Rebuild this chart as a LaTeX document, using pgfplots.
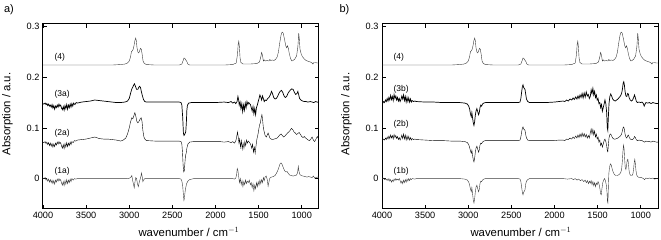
\documentclass[border=0pt]{standalone}
\usepackage{fontspec}
\setmainfont{Liberation Sans}
\usepackage{pgfplots}
\pgfplotsset{compat=1.18}
\definecolor{spec}{HTML}{3A3A3A}
\pgfplotsset{ir/.style={
  scale only axis, width=276bp, height=185bp, anchor=south west,
  xmin=800, xmax=4000, x dir=reverse, ymin=-0.06, ymax=0.305,
  xtick={1000,1500,2000,2500,3000,3500,4000}, ytick={0,0.1,0.2,0.3},
  tick align=inside, tick pos=both, major tick length=4bp,
  axis line style={line width=1bp, black},
  every tick/.style={line width=0.6bp, black},
  tick label style={font=\fontsize{9.2}{11}\selectfont},
  /pgf/number format/assume math mode=true,
  yticklabel style={/pgf/number format/fixed, /pgf/number format/precision=1},
  xticklabel style={/pgf/number format/1000 sep={}},
  scaled y ticks=false, clip=true,
  cycle list={{spec, line width=0.7bp, mark=none}}}}
\newcommand{\lab}{\fontsize{8.5}{10}\selectfont}
\begin{document}
\begin{tikzpicture}
\path[use as bounding box] (0bp,0bp) rectangle (661bp,240bp);
% ---------------- panel a
\begin{axis}[ir, at={(43bp,31bp)}]
\addplot coordinates {(4000,0.224) (3800,0.224) (3600,0.224) (3400,0.224) (3200,0.224) (3100,0.225) (3050,0.226) (3020,0.228) (3000,0.232) (2985,0.240) (2975,0.250) (2965,0.252) (2955,0.255) (2945,0.262) (2935,0.272) (2925,0.277) (2918,0.272) (2910,0.258) (2900,0.250) (2890,0.248) (2880,0.252) (2870,0.257) (2860,0.255) (2850,0.245) (2840,0.232) (2825,0.227) (2800,0.225) (2700,0.224) (2500,0.224) (2420,0.224) (2390,0.226) (2375,0.233) (2365,0.238) (2355,0.237) (2345,0.234) (2335,0.232) (2320,0.226) (2300,0.224) (2100,0.224) (1900,0.224) (1800,0.225) (1760,0.228) (1745,0.245) (1737,0.265) (1730,0.271) (1723,0.26) (1715,0.238) (1705,0.229) (1680,0.226) (1600,0.226) (1520,0.227) (1490,0.23) (1475,0.24) (1465,0.249) (1455,0.243) (1445,0.232) (1435,0.234) (1420,0.232) (1400,0.233) (1380,0.232) (1370,0.235) (1360,0.233) (1340,0.234) (1320,0.233) (1300,0.236) (1285,0.24) (1270,0.25) (1255,0.268) (1240,0.283) (1228,0.289) (1215,0.287) (1200,0.275) (1185,0.262) (1175,0.258) (1165,0.262) (1155,0.257) (1145,0.247) (1130,0.237) (1115,0.232) (1100,0.233) (1080,0.236) (1060,0.242) (1045,0.26) (1035,0.287) (1028,0.275) (1020,0.255) (1005,0.245) (990,0.24) (970,0.236) (950,0.233) (920,0.231) (900,0.23) (880,0.228) (870,0.226) (860,0.229) (840,0.229) (820,0.228) (800,0.228)};
\addplot coordinates {(4000,0.148) (3990,0.147) (3975,0.149) (3965,0.146) (3955,0.148) (3945,0.144) (3935,0.147) (3925,0.143) (3915,0.145) (3905,0.141) (3895,0.146) (3885,0.139) (3875,0.144) (3865,0.137) (3855,0.143) (3845,0.14) (3835,0.145) (3825,0.141) (3815,0.147) (3805,0.143) (3795,0.145) (3785,0.139) (3775,0.136) (3765,0.142) (3755,0.135) (3745,0.144) (3735,0.138) (3725,0.146) (3715,0.137) (3705,0.145) (3695,0.14) (3685,0.147) (3675,0.141) (3665,0.148) (3655,0.143) (3645,0.149) (3630,0.146) (3615,0.15) (3600,0.149) (3550,0.151) (3500,0.152) (3450,0.153) (3400,0.155) (3350,0.154) (3300,0.153) (3250,0.152) (3200,0.151) (3150,0.15) (3100,0.15) (3050,0.151) (3020,0.153) (3000,0.158) (2985,0.168) (2970,0.177) (2960,0.18) (2950,0.184) (2940,0.187) (2930,0.183) (2915,0.176) (2900,0.176) (2890,0.18) (2880,0.182) (2870,0.18) (2860,0.172) (2850,0.165) (2835,0.156) (2820,0.152) (2800,0.151) (2700,0.151) (2600,0.151) (2500,0.151) (2420,0.151) (2400,0.15) (2390,0.145) (2380,0.12) (2372,0.09) (2365,0.085) (2355,0.088) (2345,0.092) (2338,0.11) (2332,0.135) (2325,0.145) (2310,0.149) (2280,0.15) (2200,0.15) (2100,0.15) (2000,0.15) (1900,0.151) (1850,0.15) (1820,0.152) (1800,0.149) (1780,0.151) (1765,0.148) (1750,0.152) (1740,0.162) (1732,0.156) (1725,0.145) (1715,0.151) (1705,0.138) (1695,0.148) (1685,0.132) (1675,0.145) (1665,0.135) (1655,0.149) (1645,0.14) (1635,0.152) (1625,0.146) (1615,0.15) (1605,0.148) (1595,0.146) (1585,0.14) (1575,0.133) (1565,0.142) (1555,0.128) (1545,0.138) (1535,0.126) (1525,0.14) (1515,0.145) (1505,0.152) (1495,0.158) (1485,0.165) (1475,0.161) (1465,0.155) (1455,0.163) (1445,0.158) (1435,0.152) (1425,0.155) (1410,0.154) (1395,0.158) (1380,0.16) (1365,0.165) (1350,0.172) (1340,0.168) (1325,0.16) (1310,0.157) (1295,0.158) (1280,0.162) (1265,0.168) (1250,0.172) (1235,0.174) (1220,0.17) (1205,0.163) (1190,0.16) (1175,0.162) (1160,0.168) (1145,0.172) (1130,0.175) (1115,0.177) (1100,0.176) (1085,0.17) (1070,0.166) (1055,0.168) (1045,0.172) (1035,0.165) (1025,0.158) (1010,0.155) (990,0.153) (970,0.152) (950,0.152) (930,0.151) (900,0.152) (880,0.151) (860,0.15) (840,0.152) (820,0.151) (800,0.15)};
\addplot coordinates {(4000,0.072) (3990,0.071) (3975,0.073) (3965,0.069) (3955,0.072) (3945,0.067) (3935,0.071) (3925,0.065) (3915,0.07) (3905,0.064) (3895,0.069) (3885,0.062) (3875,0.068) (3865,0.063) (3855,0.07) (3845,0.066) (3835,0.072) (3825,0.068) (3815,0.073) (3805,0.069) (3795,0.071) (3785,0.064) (3775,0.06) (3765,0.067) (3755,0.059) (3745,0.069) (3735,0.062) (3725,0.071) (3715,0.063) (3705,0.07) (3695,0.065) (3685,0.072) (3675,0.067) (3665,0.073) (3650,0.071) (3635,0.075) (3620,0.074) (3600,0.076) (3550,0.077) (3500,0.078) (3450,0.08) (3400,0.082) (3380,0.081) (3350,0.079) (3300,0.078) (3250,0.078) (3200,0.077) (3150,0.076) (3120,0.075) (3100,0.074) (3070,0.076) (3040,0.08) (3020,0.088) (3000,0.1) (2985,0.112) (2970,0.12) (2958,0.118) (2945,0.125) (2935,0.13) (2925,0.124) (2912,0.113) (2900,0.11) (2890,0.112) (2875,0.117) (2862,0.12) (2852,0.113) (2842,0.095) (2830,0.082) (2815,0.077) (2800,0.075) (2700,0.074) (2600,0.074) (2500,0.074) (2420,0.074) (2400,0.073) (2390,0.068) (2382,0.05) (2375,0.025) (2368,0.013) (2362,0.015) (2355,0.03) (2348,0.045) (2340,0.05) (2332,0.06) (2320,0.068) (2300,0.072) (2250,0.073) (2150,0.073) (2050,0.073) (1950,0.073) (1900,0.072) (1850,0.073) (1820,0.071) (1800,0.073) (1780,0.07) (1765,0.074) (1755,0.082) (1745,0.092) (1737,0.083) (1728,0.07) (1720,0.078) (1710,0.062) (1700,0.075) (1690,0.058) (1680,0.07) (1670,0.06) (1660,0.073) (1650,0.065) (1640,0.076) (1630,0.07) (1620,0.074) (1610,0.072) (1600,0.07) (1590,0.066) (1580,0.06) (1570,0.068) (1560,0.052) (1550,0.062) (1540,0.05) (1530,0.065) (1520,0.078) (1510,0.085) (1500,0.095) (1490,0.105) (1480,0.11) (1470,0.12) (1462,0.126) (1455,0.118) (1445,0.1) (1435,0.092) (1425,0.085) (1410,0.082) (1400,0.086) (1390,0.09) (1380,0.085) (1370,0.08) (1355,0.078) (1340,0.077) (1320,0.078) (1300,0.079) (1285,0.08) (1270,0.083) (1255,0.086) (1240,0.088) (1225,0.085) (1210,0.082) (1195,0.084) (1180,0.087) (1165,0.09) (1150,0.092) (1135,0.095) (1120,0.099) (1105,0.097) (1090,0.092) (1075,0.09) (1060,0.087) (1045,0.089) (1030,0.091) (1015,0.087) (1000,0.083) (985,0.081) (970,0.083) (955,0.08) (940,0.078) (925,0.076) (910,0.075) (895,0.078) (880,0.082) (865,0.076) (850,0.073) (835,0.078) (820,0.083) (810,0.08) (800,0.08)};
\addplot coordinates {(4000,0.001) (3990,0.0) (3975,0.002) (3965,-0.003) (3955,0.0) (3945,-0.005) (3935,-0.001) (3925,-0.007) (3915,-0.002) (3905,-0.008) (3895,-0.003) (3885,-0.01) (3875,-0.004) (3865,-0.011) (3855,-0.003) (3845,-0.007) (3835,-0.001) (3825,-0.005) (3815,0.0) (3805,-0.004) (3795,-0.002) (3785,-0.009) (3775,-0.013) (3765,-0.006) (3755,-0.014) (3745,-0.004) (3735,-0.011) (3725,-0.002) (3715,-0.01) (3705,-0.003) (3695,-0.008) (3685,-0.001) (3675,-0.006) (3665,0.0) (3650,-0.003) (3635,0.0) (3620,-0.001) (3600,0.0) (3500,0.0) (3400,0.0) (3300,0.0) (3200,0.0) (3100,0.0) (3020,0.0) (2995,0.001) (2980,0.003) (2970,0.006) (2960,-0.004) (2950,-0.012) (2942,-0.018) (2933,-0.006) (2925,0.002) (2915,0.0) (2905,-0.01) (2895,-0.016) (2885,-0.008) (2875,-0.002) (2865,0.004) (2858,0.011) (2850,0.004) (2842,-0.006) (2835,-0.003) (2820,0.0) (2800,0.0) (2600,0.0) (2420,0.0) (2400,-0.001) (2390,-0.005) (2380,-0.015) (2372,-0.032) (2366,-0.043) (2360,-0.038) (2352,-0.025) (2345,-0.018) (2335,-0.01) (2320,-0.005) (2300,-0.002) (2250,0.0) (2100,0.0) (1950,0.0) (1850,0.0) (1800,0.0) (1780,-0.001) (1765,0.001) (1755,0.008) (1748,0.02) (1740,0.016) (1732,0.005) (1722,-0.008) (1712,0.0) (1702,-0.012) (1692,-0.004) (1682,-0.016) (1672,-0.006) (1662,-0.012) (1652,-0.003) (1642,-0.01) (1632,-0.005) (1620,-0.008) (1608,-0.003) (1596,-0.012) (1585,-0.008) (1575,-0.018) (1565,-0.01) (1555,-0.024) (1545,-0.013) (1535,-0.02) (1525,-0.008) (1515,-0.016) (1505,-0.006) (1495,-0.013) (1485,-0.003) (1475,-0.01) (1465,-0.002) (1455,-0.008) (1445,0.002) (1435,-0.004) (1425,0.003) (1412,0.005) (1400,-0.002) (1390,-0.015) (1382,-0.008) (1370,0.001) (1350,0.003) (1330,0.004) (1310,0.006) (1295,0.01) (1280,0.015) (1265,0.022) (1252,0.029) (1240,0.031) (1228,0.028) (1215,0.022) (1200,0.016) (1185,0.013) (1170,0.014) (1155,0.01) (1140,0.007) (1120,0.006) (1100,0.005) (1080,0.006) (1060,0.007) (1048,0.012) (1040,0.024) (1033,0.015) (1022,0.008) (1005,0.006) (985,0.005) (960,0.004) (940,0.003) (920,0.004) (900,0.003) (880,0.002) (865,0.005) (850,0.001) (835,0.002) (820,0.003) (800,0.003)};
\node[font=\lab, anchor=west] at (axis cs:3907,0.240) {(4)};
\node[font=\lab, anchor=west] at (axis cs:3907,0.166) {(3a)};
\node[font=\lab, anchor=west] at (axis cs:3907,0.089) {(2a)};
\node[font=\lab, anchor=west] at (axis cs:3907,0.0144) {(1a)};
\end{axis}
% ---------------- panel b
\begin{axis}[ir, at={(382bp,31bp)}]
\addplot coordinates {(4000,0.224) (3800,0.224) (3600,0.224) (3400,0.224) (3200,0.224) (3100,0.225) (3050,0.226) (3020,0.228) (3000,0.232) (2985,0.240) (2975,0.250) (2965,0.252) (2955,0.255) (2945,0.262) (2935,0.272) (2925,0.277) (2918,0.272) (2910,0.258) (2900,0.250) (2890,0.248) (2880,0.252) (2870,0.257) (2860,0.255) (2850,0.245) (2840,0.232) (2825,0.227) (2800,0.225) (2700,0.224) (2500,0.224) (2420,0.224) (2390,0.226) (2375,0.233) (2365,0.238) (2355,0.237) (2345,0.234) (2335,0.232) (2320,0.226) (2300,0.224) (2100,0.224) (1900,0.224) (1800,0.225) (1760,0.228) (1745,0.245) (1737,0.265) (1730,0.271) (1723,0.26) (1715,0.238) (1705,0.229) (1680,0.226) (1600,0.226) (1520,0.227) (1490,0.23) (1475,0.24) (1465,0.249) (1455,0.243) (1445,0.232) (1435,0.234) (1420,0.232) (1400,0.233) (1380,0.232) (1370,0.235) (1360,0.233) (1340,0.234) (1320,0.233) (1300,0.236) (1285,0.24) (1270,0.25) (1255,0.268) (1240,0.283) (1228,0.289) (1215,0.287) (1200,0.275) (1185,0.262) (1175,0.258) (1165,0.262) (1155,0.257) (1145,0.247) (1130,0.237) (1115,0.232) (1100,0.233) (1080,0.236) (1060,0.242) (1045,0.26) (1035,0.287) (1028,0.275) (1020,0.255) (1005,0.245) (990,0.24) (970,0.236) (950,0.233) (920,0.231) (900,0.23) (880,0.228) (870,0.226) (860,0.229) (840,0.229) (820,0.228) (800,0.228)};
\addplot coordinates {(4000,0.148) (3990,0.149) (3980,0.152) (3970,0.15) (3960,0.155) (3950,0.152) (3940,0.158) (3930,0.153) (3920,0.16) (3910,0.155) (3900,0.164) (3890,0.156) (3880,0.162) (3870,0.154) (3860,0.166) (3850,0.158) (3840,0.163) (3830,0.155) (3820,0.16) (3810,0.153) (3800,0.158) (3790,0.152) (3780,0.156) (3770,0.163) (3760,0.157) (3750,0.165) (3740,0.154) (3730,0.162) (3720,0.151) (3710,0.16) (3700,0.152) (3690,0.159) (3680,0.151) (3670,0.157) (3660,0.151) (3650,0.154) (3635,0.152) (3620,0.153) (3600,0.152) (3500,0.151) (3400,0.151) (3300,0.15) (3200,0.15) (3100,0.15) (3040,0.149) (3010,0.147) (2995,0.143) (2985,0.138) (2975,0.128) (2965,0.122) (2958,0.13) (2950,0.12) (2942,0.11) (2934,0.105) (2926,0.112) (2918,0.125) (2910,0.133) (2900,0.138) (2890,0.132) (2880,0.126) (2872,0.13) (2864,0.14) (2855,0.145) (2845,0.143) (2835,0.147) (2820,0.149) (2800,0.15) (2700,0.15) (2600,0.15) (2500,0.15) (2420,0.15) (2400,0.151) (2390,0.158) (2380,0.172) (2372,0.182) (2365,0.185) (2358,0.18) (2350,0.178) (2342,0.176) (2335,0.168) (2325,0.157) (2310,0.152) (2290,0.15) (2200,0.15) (2100,0.15) (2000,0.151) (1950,0.152) (1900,0.153) (1880,0.152) (1860,0.155) (1840,0.153) (1820,0.157) (1800,0.155) (1785,0.159) (1770,0.156) (1755,0.161) (1740,0.157) (1728,0.163) (1716,0.158) (1704,0.165) (1692,0.16) (1680,0.168) (1668,0.159) (1656,0.169) (1644,0.161) (1632,0.171) (1620,0.163) (1608,0.166) (1596,0.158) (1585,0.162) (1575,0.175) (1565,0.168) (1555,0.178) (1545,0.165) (1535,0.172) (1525,0.16) (1515,0.165) (1505,0.155) (1495,0.158) (1485,0.148) (1475,0.15) (1465,0.14) (1455,0.146) (1445,0.133) (1435,0.14) (1425,0.147) (1415,0.155) (1405,0.148) (1395,0.13) (1388,0.1) (1382,0.095) (1376,0.12) (1368,0.148) (1358,0.162) (1348,0.167) (1338,0.163) (1325,0.157) (1310,0.154) (1295,0.153) (1280,0.155) (1265,0.157) (1250,0.16) (1235,0.163) (1222,0.168) (1212,0.177) (1204,0.188) (1197,0.191) (1190,0.185) (1182,0.172) (1172,0.163) (1162,0.162) (1152,0.168) (1144,0.167) (1135,0.16) (1122,0.155) (1108,0.153) (1095,0.155) (1082,0.16) (1072,0.165) (1063,0.16) (1052,0.153) (1040,0.15) (1020,0.151) (1000,0.15) (985,0.151) (970,0.148) (960,0.143) (950,0.147) (940,0.15) (920,0.149) (900,0.15) (880,0.148) (860,0.15) (840,0.149) (820,0.148) (800,0.148)};
\addplot coordinates {(4000,0.075) (3990,0.076) (3980,0.078) (3970,0.076) (3960,0.08) (3950,0.077) (3940,0.082) (3930,0.078) (3920,0.084) (3910,0.079) (3900,0.086) (3890,0.08) (3880,0.085) (3870,0.078) (3860,0.087) (3850,0.081) (3840,0.085) (3830,0.079) (3820,0.083) (3810,0.077) (3800,0.081) (3790,0.076) (3780,0.08) (3770,0.086) (3760,0.079) (3750,0.088) (3740,0.078) (3730,0.086) (3720,0.076) (3710,0.084) (3700,0.077) (3690,0.083) (3680,0.076) (3670,0.081) (3660,0.076) (3650,0.079) (3635,0.077) (3620,0.078) (3600,0.077) (3500,0.076) (3400,0.075) (3300,0.075) (3200,0.074) (3100,0.074) (3040,0.073) (3010,0.071) (2995,0.067) (2985,0.062) (2975,0.055) (2965,0.05) (2958,0.056) (2950,0.046) (2942,0.037) (2934,0.033) (2926,0.04) (2918,0.052) (2910,0.06) (2900,0.064) (2890,0.058) (2880,0.052) (2872,0.057) (2864,0.066) (2855,0.07) (2845,0.069) (2835,0.072) (2820,0.074) (2800,0.075) (2700,0.075) (2600,0.075) (2500,0.075) (2420,0.075) (2400,0.076) (2390,0.082) (2380,0.093) (2372,0.1) (2365,0.102) (2358,0.098) (2350,0.097) (2342,0.095) (2335,0.088) (2325,0.08) (2310,0.076) (2290,0.075) (2200,0.075) (2100,0.075) (2000,0.075) (1950,0.076) (1900,0.076) (1880,0.075) (1860,0.078) (1840,0.077) (1820,0.08) (1800,0.078) (1785,0.082) (1770,0.079) (1755,0.084) (1740,0.08) (1728,0.086) (1716,0.081) (1704,0.088) (1692,0.082) (1680,0.09) (1668,0.083) (1656,0.089) (1644,0.082) (1632,0.087) (1620,0.08) (1608,0.085) (1596,0.08) (1585,0.09) (1575,0.098) (1565,0.088) (1555,0.097) (1545,0.086) (1535,0.094) (1525,0.082) (1515,0.088) (1505,0.078) (1495,0.082) (1485,0.072) (1475,0.076) (1465,0.065) (1455,0.07) (1445,0.062) (1435,0.068) (1425,0.075) (1415,0.078) (1405,0.073) (1395,0.065) (1388,0.055) (1382,0.053) (1376,0.065) (1368,0.08) (1358,0.087) (1348,0.088) (1338,0.084) (1325,0.08) (1310,0.078) (1295,0.078) (1280,0.079) (1265,0.08) (1250,0.082) (1235,0.084) (1222,0.088) (1212,0.095) (1204,0.101) (1197,0.102) (1190,0.097) (1182,0.088) (1172,0.082) (1162,0.08) (1152,0.084) (1144,0.086) (1135,0.082) (1122,0.078) (1108,0.077) (1095,0.077) (1082,0.079) (1072,0.083) (1063,0.081) (1052,0.077) (1040,0.075) (1020,0.076) (1000,0.075) (985,0.075) (970,0.073) (955,0.072) (940,0.074) (920,0.073) (900,0.073) (880,0.072) (860,0.074) (840,0.073) (820,0.072) (800,0.072)};
\addplot coordinates {(4000,0.001) (3990,0.0) (3980,0.001) (3970,-0.002) (3960,0.0) (3950,-0.003) (3940,-0.001) (3930,-0.004) (3920,0.0) (3910,-0.005) (3900,-0.002) (3890,-0.007) (3880,-0.003) (3870,-0.006) (3860,-0.001) (3850,-0.004) (3840,0.0) (3830,-0.003) (3820,-0.001) (3810,-0.003) (3800,0.0) (3790,-0.004) (3780,-0.009) (3770,-0.005) (3760,-0.01) (3750,-0.003) (3740,-0.008) (3730,-0.002) (3720,-0.007) (3710,-0.001) (3700,-0.005) (3690,0.0) (3680,-0.004) (3670,0.0) (3660,-0.002) (3650,0.0) (3620,-0.001) (3600,0.0) (3500,0.0) (3400,0.0) (3300,0.0) (3200,0.0) (3100,0.0) (3040,-0.001) (3010,-0.003) (2995,-0.007) (2985,-0.012) (2975,-0.02) (2965,-0.026) (2958,-0.018) (2950,-0.03) (2942,-0.042) (2934,-0.048) (2926,-0.04) (2918,-0.026) (2910,-0.017) (2900,-0.013) (2890,-0.02) (2880,-0.026) (2872,-0.021) (2864,-0.01) (2855,-0.005) (2845,-0.006) (2835,-0.003) (2820,-0.001) (2800,0.0) (2700,0.0) (2600,0.0) (2500,0.0) (2420,0.0) (2400,-0.001) (2390,-0.006) (2380,-0.018) (2372,-0.028) (2365,-0.032) (2358,-0.027) (2350,-0.025) (2342,-0.022) (2335,-0.012) (2325,-0.005) (2310,-0.002) (2290,0.0) (2200,0.0) (2100,0.0) (2000,0.0) (1900,0.0) (1850,-0.001) (1800,0.0) (1780,-0.002) (1760,0.0) (1740,-0.003) (1720,-0.001) (1700,-0.004) (1680,-0.002) (1660,-0.006) (1645,-0.003) (1630,-0.008) (1618,-0.004) (1606,-0.01) (1595,-0.005) (1585,-0.009) (1575,-0.004) (1565,-0.012) (1555,-0.006) (1545,-0.014) (1535,-0.008) (1525,-0.016) (1515,-0.009) (1505,-0.012) (1495,-0.006) (1485,-0.01) (1475,-0.018) (1465,-0.03) (1458,-0.032) (1450,-0.02) (1440,-0.008) (1430,-0.003) (1420,0.0) (1410,-0.004) (1400,-0.012) (1392,-0.025) (1386,-0.045) (1381,-0.048) (1376,-0.02) (1370,0.01) (1362,0.022) (1352,0.029) (1342,0.027) (1330,0.018) (1318,0.012) (1305,0.008) (1290,0.006) (1275,0.006) (1260,0.007) (1245,0.009) (1232,0.012) (1222,0.018) (1213,0.035) (1206,0.055) (1200,0.066) (1194,0.06) (1187,0.04) (1180,0.022) (1172,0.018) (1165,0.025) (1157,0.036) (1150,0.038) (1143,0.03) (1135,0.015) (1125,0.008) (1112,0.006) (1100,0.006) (1090,0.01) (1082,0.02) (1075,0.033) (1069,0.038) (1063,0.03) (1055,0.015) (1045,0.006) (1030,0.003) (1010,0.002) (990,0.002) (970,0.0) (955,-0.002) (940,0.001) (920,0.0) (900,0.001) (880,0.0) (860,0.001) (840,-0.001) (820,0.0) (800,0.0)};
\node[font=\lab, anchor=west] at (axis cs:3907,0.240) {(4)};
\node[font=\lab, anchor=west] at (axis cs:3907,0.177) {(3b)};
\node[font=\lab, anchor=west] at (axis cs:3907,0.1065) {(2b)};
\node[font=\lab, anchor=west] at (axis cs:3907,0.0144) {(1b)};
\end{axis}
% ---------------- outer labels
\node[anchor=west, font=\fontsize{11}{13}\selectfont] at (0.5bp,230.5bp) {a)};
\node[anchor=west, font=\fontsize{11}{13}\selectfont] at (336bp,230.5bp) {b)};
\node[rotate=90, font=\fontsize{11.4}{13}\selectfont] at (7.5bp,126bp) {Absorption / a.u.};
\node[rotate=90, font=\fontsize{11.4}{13}\selectfont] at (346.5bp,126bp) {Absorption / a.u.};
\node[anchor=base, font=\fontsize{11.4}{13}\selectfont] at (189bp,4bp) {wavenumber / cm$^{-1}$};
\node[anchor=base, font=\fontsize{11.4}{13}\selectfont] at (521bp,4bp) {wavenumber / cm$^{-1}$};
\end{tikzpicture}
\end{document}
